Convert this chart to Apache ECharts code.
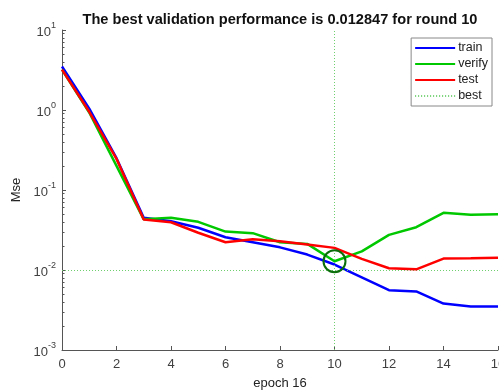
<!DOCTYPE html>
<html>
<head>
<meta charset="utf-8">
<script src="https://cdn.jsdelivr.net/npm/echarts@6/dist/echarts.min.js"></script>
<style>html,body{margin:0;padding:0;background:#fff;}#c{width:499px;height:392px;}</style>
</head>
<body>
<div id="c"></div>
<script>
var epochs = [0,1,2,3,4,5,6,7,8,9,10,11,12,13,14,15,16];
var train  = [3.5, 1.04, 0.25, 0.045, 0.0407, 0.0337, 0.0257, 0.0222, 0.0192, 0.0156, 0.0117, 0.0081, 0.0056, 0.0054, 0.0038, 0.0035, 0.0035];
var verify = [3.2, 0.93, 0.20, 0.043, 0.045, 0.040, 0.0302, 0.0289, 0.0222, 0.0212, 0.012847, 0.0171, 0.0275, 0.0343, 0.0519, 0.049, 0.0499];
var test   = [3.2, 0.95, 0.245, 0.0428, 0.0395, 0.0292, 0.0222, 0.0243, 0.0229, 0.0209, 0.0189, 0.0138, 0.0105, 0.0102, 0.0139, 0.0140, 0.0142];
var bestEpoch = 10;
var bestValue = 0.012847;
var titleText = 'The best validation performance is 0.012847 for round 10';
var xName = 'epoch 16';
var yName = 'Mse';

function pairs(arr){ return epochs.map(function(e,i){ return [e, arr[i]]; }); }
var minorVals = [];
for (var k = -3; k < 1; k++) { for (var m = 2; m <= 9; m++) { minorVals.push(m * Math.pow(10, k)); } }

var chart = echarts.init(document.getElementById('c'), null, {renderer:'canvas'});
var axisCol = '#555555';
var labCol = '#404040';
var font = 'Liberation Sans, Arial, sans-serif';
chart.setOption({
  animation: false,
  backgroundColor: '#ffffff',
  title: {
    text: titleText, left: 275, top: 7, textAlign: 'center',
    textStyle: {fontSize: 14.6, fontWeight: 'bold', color: '#111', fontFamily: font}
  },
  legend: {
    orient: 'vertical', right: 7, top: 38,
    data: ['train','verify','test','best'],
    itemWidth: 40, itemHeight: 10, itemGap: 2,
    itemStyle: {opacity: 0},
    backgroundColor: '#fff', borderColor: '#888', borderWidth: 1, borderRadius: 0,
    padding: [3, 4, 3, 3],
    textStyle: {fontSize: 12.5, color: '#222', fontFamily: font, padding: [0,0,0,-2], lineHeight: 14}
  },
  grid: {left: 62, right: 1, top: 30, bottom: 42, outerBoundsMode: 'none', containLabel: false},
  xAxis: {
    type: 'value', min: 0, max: 16, interval: 2,
    name: xName, nameLocation: 'middle', nameGap: 27,
    nameTextStyle: {fontSize: 13, color: '#222', fontFamily: font},
    axisLine: {lineStyle: {color: axisCol, width: 1}},
    axisTick: {inside: true, length: 4, lineStyle: {color: axisCol}},
    axisLabel: {fontSize: 13, color: labCol, margin: 8, fontFamily: font, showMaxLabel: true},
    splitLine: {show: false}
  },
  yAxis: [{
    type: 'log', logBase: 10, min: 0.001, max: 10, interval: 1,
    name: yName, nameLocation: 'middle', nameGap: 37, nameRotate: 90,
    nameTextStyle: {fontSize: 13, color: '#222', fontFamily: font},
    axisLine: {show: true, lineStyle: {color: axisCol, width: 1}},
    axisTick: {show: true, inside: true, length: 4, lineStyle: {color: axisCol}},
    axisLabel: {
      margin: 6, color: labCol, fontFamily: font,
      formatter: function(v){ var e = Math.round(Math.log10(v)); return '{b|10}{s|' + e + '}'; },
      rich: {
        b: {fontSize: 13, color: labCol, fontFamily: font, lineHeight: 18, verticalAlign: 'bottom'},
        s: {fontSize: 9, color: labCol, fontFamily: font, lineHeight: 10, verticalAlign: 'top'}
      }
    },
    splitLine: {show: false}
  }, {
    type: 'log', logBase: 10, min: 0.001, max: 10, position: 'left', offset: 0,
    axisLine: {show: false},
    axisTick: {show: true, inside: true, length: 2.5, customValues: minorVals, lineStyle: {color: axisCol}},
    axisLabel: {show: false},
    splitLine: {show: false}
  }],
  series: [
    {name: 'train', type: 'line', data: pairs(train), symbol: 'none', lineStyle: {color: '#0000ff', width: 2.5}, itemStyle: {color: '#0000ff'}, z: 3},
    {name: 'verify', type: 'line', data: pairs(verify), symbol: 'none', lineStyle: {color: '#00c800', width: 2.5}, itemStyle: {color: '#00c800'}, z: 4},
    {name: 'test', type: 'line', data: pairs(test), symbol: 'none', lineStyle: {color: '#ff0000', width: 2.5}, itemStyle: {color: '#ff0000'}, z: 5},
    {name: 'best', type: 'line', data: [], symbol: 'none',
      lineStyle: {color: '#6fcf6f', width: 1, type: [1, 2]}, itemStyle: {color: '#6fcf6f'}, z: 2,
      markLine: {silent: true, symbol: 'none', label: {show: false},
        lineStyle: {color: '#6fcf6f', width: 1, type: [1, 2]},
        data: [{xAxis: bestEpoch}, {yAxis: bestValue}]}
    },
    {name: 'bestPoint', type: 'scatter', data: [[bestEpoch, bestValue]], symbol: 'circle', symbolSize: 22,
      itemStyle: {color: 'rgba(0,0,0,0)', borderColor: '#0b6e0b', borderWidth: 2, opacity: 1}, z: 6}
  ]
});
</script>
</body>
</html>
